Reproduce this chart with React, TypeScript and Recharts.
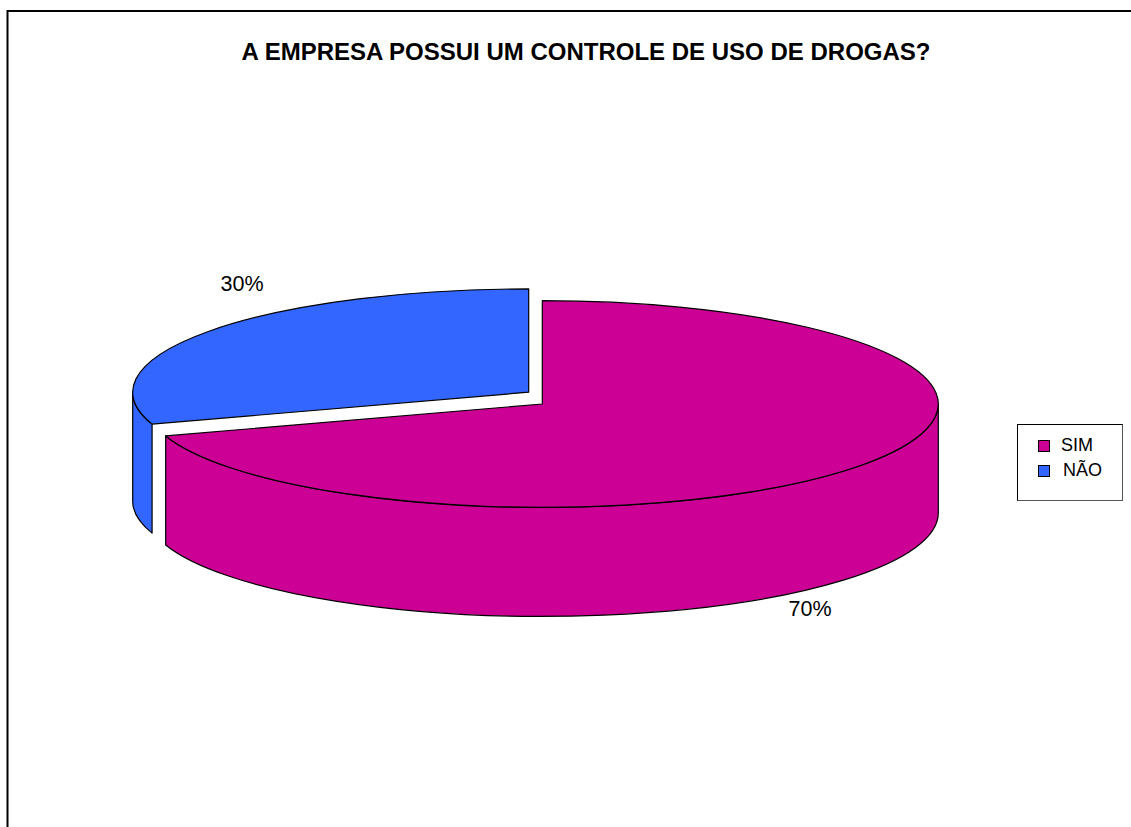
import { PieChart, Pie, Legend } from 'recharts';

const categories = ['SIM', 'NÃO'];
const percentages = [70, 30];
const sliceColors = ['#CC0094', '#3366FF'];

const pieData = categories.map((name, i) => ({
  name,
  value: percentages[i],
  fill: sliceColors[i],
}));

const WIDTH = 1131;
const HEIGHT = 827;
const RADIUS_X = 396;
const RADIUS_Y = 103.3;
const DEPTH = 109;
const FONT = '"Liberation Sans", Arial, sans-serif';

// pulled-out distance of each slice, in pixels
const sliceOffsets = [
  [0, 0],
  [-13.6, -11.8],
];
const labelAnchors = [
  [810, 616],
  [242, 291],
];

const pointAt = (cx: number, cy: number, deg: number) => {
  const rad = (deg * Math.PI) / 180;
  return [cx + RADIUS_X * Math.cos(rad), cy - RADIUS_Y * Math.sin(rad)];
};

// Flattened slice with its visible outer wall below it
function ExtrudedSlice(props: any) {
  const { cx, cy, startAngle, endAngle, fill, index } = props;
  const [dx, dy] = sliceOffsets[index];
  const ox = cx + dx;
  const oy = cy + dy;

  const [sx, sy] = pointAt(ox, oy, startAngle);
  const [ex, ey] = pointAt(ox, oy, endAngle);
  const large = Math.abs(startAngle - endAngle) > 180 ? 1 : 0;
  const top = `M${ox},${oy} L${sx},${sy} A${RADIUS_X},${RADIUS_Y} 0 ${large} 1 ${ex},${ey} Z`;

  // only the front half of the rim faces the viewer
  const hi = Math.min(startAngle, 0);
  const lo = Math.max(endAngle, -180);
  const [wx0, wy0] = pointAt(ox, oy, hi);
  const [wx1, wy1] = pointAt(ox, oy, lo);
  const wall =
    `M${wx0},${wy0} A${RADIUS_X},${RADIUS_Y} 0 0 1 ${wx1},${wy1} ` +
    `L${wx1},${wy1 + DEPTH} A${RADIUS_X},${RADIUS_Y} 0 0 0 ${wx0},${wy0 + DEPTH} Z`;

  return (
    <g>
      <path d={wall} fill={fill} stroke="#000" strokeWidth={1.2} strokeLinejoin="round" />
      <path d={top} fill={fill} stroke="#000" strokeWidth={1.2} strokeLinejoin="round" />
    </g>
  );
}

function PercentLabel(props: any) {
  const { index, value } = props;
  const [x, y] = labelAnchors[index];
  return (
    <text x={x} y={y} textAnchor="middle" fontFamily={FONT} fontSize={21.5} fill="#000">
      {`${value}%`}
    </text>
  );
}

function LegendBox({ payload }: any) {
  return (
    <div
      style={{
        width: 106,
        height: 77,
        boxSizing: 'border-box',
        border: '1px solid #000',
        borderRightColor: '#555',
        borderBottomColor: '#555',
        background: '#fff',
        fontFamily: FONT,
        fontSize: 18,
        color: '#000',
        paddingTop: 8,
        paddingLeft: 20,
      }}
    >
      {(payload || []).map((entry: any, i: number) => (
        <div key={entry.value} style={{ display: 'flex', alignItems: 'center', height: 25 }}>
          <span
            style={{
              width: 12,
              height: 12,
              boxSizing: 'border-box',
              border: '1px solid #000',
              background: entry.color,
              marginRight: i === 0 ? 11 : 13,
            }}
          />
          {entry.value}
        </div>
      ))}
    </div>
  );
}

export default function App() {
  return (
    <div style={{ position: 'absolute', left: 0, top: 0, width: WIDTH, height: HEIGHT, background: '#fff', overflow: 'hidden' }}>
      <PieChart width={WIDTH} height={HEIGHT} margin={{ top: 0, right: 0, bottom: 0, left: 0 }}>
        <line x1={7.5} y1={11} x2={WIDTH} y2={11} stroke="#000" strokeWidth={2} />
        <line x1={7.5} y1={10} x2={7.5} y2={HEIGHT} stroke="#000" strokeWidth={2} />
        <text
          x={586}
          y={60}
          textAnchor="middle"
          fontFamily={FONT}
          fontSize={24}
          fontWeight="bold"
          fill="#000"
        >
          A EMPRESA POSSUI UM CONTROLE DE USO DE DROGAS?
        </text>
        <Pie
          data={pieData}
          dataKey="value"
          nameKey="name"
          cx={542.3}
          cy={404}
          outerRadius={RADIUS_X}
          startAngle={90}
          endAngle={-270}
          stroke="none"
          shape={ExtrudedSlice}
          label={PercentLabel}
          labelLine={false}
          isAnimationActive={false}
        />
        <Legend
          content={LegendBox}
          layout="vertical"
          itemSorter={null}
          wrapperStyle={{ position: 'absolute', left: 1017, top: 424, width: 106, height: 77 }}
        />
      </PieChart>
    </div>
  );
}
